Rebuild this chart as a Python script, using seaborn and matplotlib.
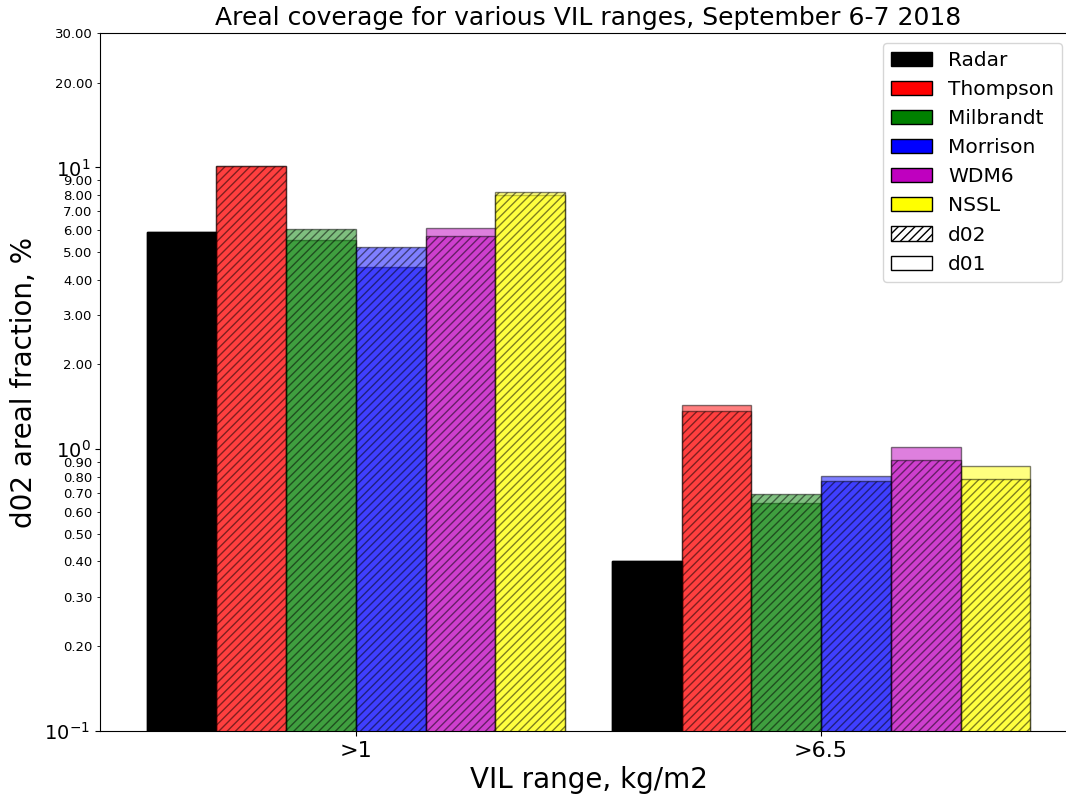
import numpy as np
import pandas as pd
import matplotlib
matplotlib.use("Agg")
import matplotlib.pyplot as plt
import seaborn as sns
from matplotlib.patches import Patch
from matplotlib.ticker import FormatStrFormatter, LogLocator

ranges = [">1", ">6.5"]
models = ["Radar", "Thompson", "Milbrandt", "Morrison", "WDM6", "NSSL"]
colors = ["black", "red", "green", "blue", "m", "yellow"]

radar = [5.9, 0.40]
d01_thompson = [10.1, 1.43]
d01_milbrandt = [5.53, 0.642]
d01_morrison = [4.42, 0.804]
d01_wdm6 = [6.1, 1.02]
d01_nssl = [7.98, 0.87]

d02_thompson = [10.1, 1.37]
d02_milbrandt = [6.04, 0.692]
d02_morrison = [5.23, 0.771]
d02_wdm6 = [5.69, 0.915]
d02_nssl = [8.16, 0.784]


def build(vals):
    rows = []
    for m, v in zip(models, vals):
        for r, x in zip(ranges, v):
            rows.append({"range": r, "model": m, "value": x})
    return pd.DataFrame(rows)


df01 = build([radar, d01_thompson, d01_milbrandt, d01_morrison, d01_wdm6, d01_nssl])
df02 = build([radar, d02_thompson, d02_milbrandt, d02_morrison, d02_wdm6, d02_nssl])

W, H = 1066, 797
AX_L, AX_R, AX_T, AX_B = 100, 1077, 33, 731
fig = plt.figure(figsize=(W / 100, H / 100), dpi=100)
ax = fig.add_axes([AX_L / W, 1 - AX_B / H, (AX_R - AX_L) / W, (AX_B - AX_T) / H])

pal = dict(zip(models, colors))
sns.barplot(data=df01, x="range", y="value", hue="model", hue_order=models,
            order=ranges, palette=pal, width=0.9, alpha=0.5, edgecolor="black",
            linewidth=1.0, saturation=1, legend=False, errorbar=None, ax=ax)
sns.barplot(data=df02, x="range", y="value", hue="model", hue_order=models,
            order=ranges, palette=pal, width=0.9, alpha=0.5, edgecolor="black",
            linewidth=1.0, saturation=1, hatch="////", legend=False,
            errorbar=None, ax=ax)

# Radar bars drawn opaque
for idx in (0, 6):
    for p in ax.containers[idx]:
        p.set_alpha(1.0)

ax.set_yscale("log")
ax.set_ylim(0.1, 30)
ax.set_xlim(-0.55, 1.55)
ax.yaxis.set_minor_locator(LogLocator(base=10, subs=np.arange(2, 10), numticks=20))
ax.yaxis.set_minor_formatter(FormatStrFormatter("%.2f"))
ax.tick_params(axis="y", which="minor", labelsize=9.5)
ax.tick_params(axis="y", which="major", labelsize=14)
ax.tick_params(axis="x", labelsize=16)

ax.set_title("Areal coverage for various VIL ranges, September 6-7 2018", fontsize=18)
ax.set_xlabel("VIL range, kg/m2", fontsize=20)
ax.set_ylabel("d02 areal fraction, %", fontsize=20)
ax.yaxis.set_label_coords((38 - AX_L) / (AX_R - AX_L), 0.5)

handles = [Patch(facecolor=c, edgecolor="black", label=m) for m, c in zip(models, colors)]
handles.append(Patch(facecolor="white", edgecolor="black", hatch="////", label="d02"))
handles.append(Patch(facecolor="white", edgecolor="black", label="d01"))
ax.legend(handles=handles, loc="upper right", fontsize=14.5,
          bbox_to_anchor=((1062 + 10 - AX_L) / (AX_R - AX_L), 1.0))

fig.savefig("out.png", dpi=100)
